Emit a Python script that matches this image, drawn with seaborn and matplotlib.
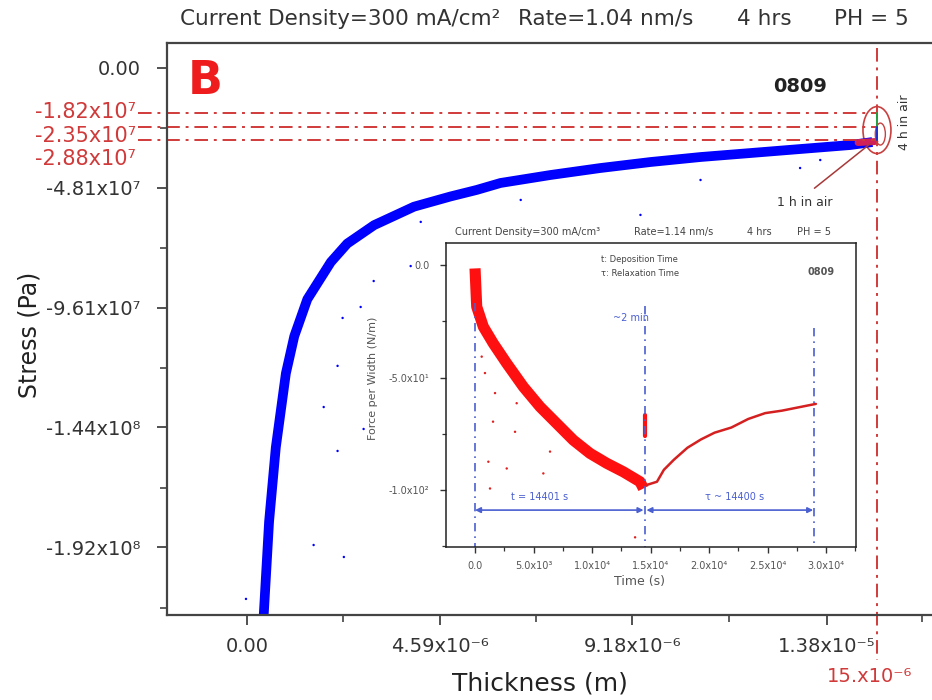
import numpy as np
import pandas as pd
import matplotlib
matplotlib.use("Agg")
import matplotlib.pyplot as plt
import seaborn as sns
from matplotlib.patches import Ellipse

# ---------------- main chart data ----------------
thickness_m = [0.40e-6, 0.53e-6, 0.69e-6, 0.93e-6, 1.13e-6, 1.44e-6, 2.00e-6, 2.39e-6,
               3.03e-6, 3.98e-6, 4.85e-6, 5.47e-6, 6.04e-6, 7.23e-6, 8.42e-6, 9.61e-6,
               10.80e-6, 11.99e-6, 13.17e-6, 14.36e-6, 14.89e-6]
stress_pa = [-22.0e7, -18.18e7, -15.21e7, -12.24e7, -10.75e7, -9.27e7, -7.78e7, -7.04e7,
             -6.30e7, -5.56e7, -5.15e7, -4.89e7, -4.61e7, -4.29e7, -4.01e7, -3.77e7,
             -3.57e7, -3.41e7, -3.25e7, -3.09e7, -2.97e7]
stray_thickness_m = [-0.02e-6, 1.59e-6, 2.31e-6, 1.83e-6, 2.16e-6, 2.16e-6, 2.78e-6, 2.28e-6,
                     2.71e-6, 3.02e-6, 3.90e-6, 4.14e-6, 6.52e-6, 8.18e-6, 9.37e-6, 10.80e-6,
                     13.17e-6, 13.65e-6]
stray_stress_pa = [-21.28e7, -19.12e7, -19.60e7, -13.59e7, -11.94e7, -15.35e7, -14.47e7, -10.02e7,
                   -9.58e7, -8.54e7, -7.94e7, -6.17e7, -5.29e7, -7.09e7, -5.89e7, -4.49e7,
                   -4.01e7, -3.69e7]
ref_stress_pa = [-1.82e7, -2.35e7, -2.88e7]
ref_stress_labels = ["-1.82x10⁷", "-2.35x10⁷", "-2.88x10⁷"]
end_thickness_m = 15e-6
y_ticks = [0.0, -4.81e7, -9.61e7, -1.44e8, -1.92e8]
y_tick_labels = ["0.00", "-4.81x10⁷", "-9.61x10⁷", "-1.44x10⁸", "-1.92x10⁸"]
x_ticks = [0.0, 4.59e-6, 9.18e-6, 1.38e-5]
x_tick_labels = ["0.00", "4.59x10⁻⁶", "9.18x10⁻⁶", "1.38x10⁻⁵"]

# ---------------- inset data ----------------
dep_time_s = [0, 145, 710, 1560, 2710, 4130, 5560, 6980, 8400, 9830, 11260, 12680, 14100, 14390]
dep_force = [-1.5, -18.5, -27.4, -34.8, -43.7, -54.1, -63.0, -70.4, -77.8, -83.7, -88.1, -91.9, -96.3, -99.3]
rel_time_s = [14690, 15550, 16140, 17000, 18150, 19310, 20470, 21910, 23350, 24800, 26240, 27680, 29130]
rel_force = [-97.7, -96.3, -91.0, -86.5, -81.2, -77.5, -74.5, -72.2, -68.4, -65.8, -64.7, -63.2, -61.7]
in_stray_time_s = [570, 850, 1710, 3560, 1540, 3420, 6410, 1140, 2710, 1280, 5840, 13680]
in_stray_force = [-40.7, -48.0, -56.9, -61.4, -69.6, -74.1, -82.9, -87.4, -90.4, -99.3, -92.6, -121.0]
in_x_ticks = [0, 5000, 10000, 15000, 20000, 25000, 30000]
in_x_labels = ["0.0", "5.0x10³", "1.0x10⁴", "1.5x10⁴", "2.0x10⁴", "2.5x10⁴", "3.0x10⁴"]
in_y_ticks = [0, -50, -100]
in_y_labels = ["0.0", "-5.0x10¹", "-1.0x10²"]
marker_times_s = [0, 14530, 29000]

sns.set_style("ticks")
plt.rcParams['font.family'] = ['DejaVu Sans']

W, H = 932, 700
fig = plt.figure(figsize=(W / 100, H / 100), dpi=100)


def P(x, y):
    return (x / W, 1 - y / H)


ax = fig.add_axes([167 / W, 1 - 615 / H, (W - 167) / W, (615 - 43) / H])
ax.set_xlim(-1.90e-6, 16.31e-6)
ax.set_ylim(-2.1925e8, 1.0e7)

df_main = pd.DataFrame({"t": thickness_m, "s": stress_pa})
sns.lineplot(data=df_main, x="t", y="s", sort=False, estimator=None, color="#0000ff",
             lw=7, ax=ax, solid_capstyle="butt", solid_joinstyle="round")
sns.scatterplot(x=stray_thickness_m, y=stray_stress_pa, color="#0000ff", s=3, marker="o",
                edgecolor="none", ax=ax)
# red tint at end of the curve
sns.lineplot(x=[14.55e-6, 14.95e-6], y=[-2.99e7, -2.95e7], color="#d0205a", lw=5, ax=ax,
             estimator=None)

red = "#d03a3a"
ax.hlines(ref_stress_pa, -2.59e-6, end_thickness_m, colors=red, linestyles=[(0, (7, 3, 1.5, 3))],
          lw=1.4, clip_on=False)
ax.plot([end_thickness_m, end_thickness_m], [0.8e7, -2.373e8], color=red, lw=1.4,
        ls=(0, (7, 3, 1.5, 3)), clip_on=False)
ax.plot([end_thickness_m, end_thickness_m], [ref_stress_pa[0], ref_stress_pa[1]], color="#20a040", lw=1.4)
ax.plot([end_thickness_m, end_thickness_m], [ref_stress_pa[1], ref_stress_pa[2]], color="#2030d0", lw=1.4)
ax.add_patch(Ellipse((15.0e-6, -2.49e7), 6.66e-7, 1.88e7, fill=False, ec="#c84040", lw=1.2))
ax.add_patch(Ellipse((15.08e-6, -2.65e7), 2.4e-7, 0.88e7, fill=False, ec="#c84040", lw=1.0))
ax.annotate("", xy=(14.89e-6, -2.97e7), xytext=(13.46e-6, -4.89e7),
            arrowprops=dict(arrowstyle="-", color="#a83838", lw=1.1))

ax.set_yticks(y_ticks)
ax.set_yticklabels(y_tick_labels)
ax.set_xticks(x_ticks)
ax.set_xticklabels(x_tick_labels)
ax.set_yticks([-2.405e7, -7.21e7, -12.02e7, -16.82e7, -21.63e7], minor=True)
ax.set_xticks([2.295e-6, 6.885e-6, 11.475e-6, 16.065e-6], minor=True)
ax.tick_params(axis="both", which="major", direction="out", length=7, width=1.2,
               colors="#333333", labelsize=14, labelcolor="#333333")
ax.tick_params(axis="y", which="major", pad=12)
ax.tick_params(axis="x", which="major", pad=9)
ax.tick_params(axis="both", which="minor", direction="out", length=5, width=1.1, colors="#333333")
for side in ["left", "top", "bottom"]:
    ax.spines[side].set_color("#444444")
    ax.spines[side].set_linewidth(1.6)
ax.spines["right"].set_visible(False)
ax.set_xlabel("")
ax.set_ylabel("")

fig.text(*P(540, 684), "Thickness (m)", ha="center", va="center", fontsize=18, color="#222222")
fig.text(*P(30, 335), "Stress (Pa)", ha="center", va="center", rotation=90, fontsize=17, color="#222222")

for lbl, yy in zip(ref_stress_labels, [112, 136, 159]):
    fig.text(*P(136, yy), lbl, ha="right", va="center", fontsize=15, color=red)
fig.text(*P(870, 677), "15.x10⁻⁶", ha="center", va="center", fontsize=14, color=red)

# title pieces
tcol = "#333333"
fig.text(*P(180, 19), "Current Density=300 mA/cm²", ha="left", va="center", fontsize=15.5, color=tcol)
fig.text(*P(518, 19), "Rate=1.04 nm/s", ha="left", va="center", fontsize=15.5, color=tcol)
fig.text(*P(737, 19), "4 hrs", ha="left", va="center", fontsize=15.5, color=tcol)
fig.text(*P(834, 19), "PH = 5", ha="left", va="center", fontsize=15.5, color=tcol)

fig.text(*P(205, 82), "B", ha="center", va="center", fontsize=33, fontweight="bold", color="#ee1c1c")
fig.text(*P(800, 86), "0809", ha="center", va="center", fontsize=14, fontweight="bold", color="#222222")
fig.text(*P(805, 203), "1 h in air", ha="center", va="center", fontsize=9, color="#333333")
fig.text(*P(905, 122), "4 h in air", ha="center", va="center", rotation=90, fontsize=9, color="#333333")

# ---------------- inset ----------------
axi = fig.add_axes([446 / W, 1 - 547 / H, (856 - 446) / W, (547 - 243) / H])
axi.set_facecolor("white")
axi.set_xlim(-2480, 32560)
axi.set_ylim(-125.3, 9.8)
sns.lineplot(x=dep_time_s, y=dep_force, sort=False, estimator=None, color="#ff1010", lw=8,
             ax=axi, solid_capstyle="butt", solid_joinstyle="round")
sns.lineplot(x=rel_time_s, y=rel_force, sort=False, estimator=None, color="#d42020", lw=1.8, ax=axi)
sns.scatterplot(x=in_stray_time_s, y=in_stray_force, color="#e02020", s=3, marker="o",
                edgecolor="none", ax=axi)
sns.lineplot(x=[14550, 14550], y=[-66.5, -76.0], estimator=None, color="#ff1010", lw=3, ax=axi)

bcol = "#4a5fd0"
axi.plot([marker_times_s[0]] * 2, [-17, -125.3], color=bcol, lw=1.2, ls=(0, (5, 3, 1, 3)))
axi.plot([marker_times_s[1]] * 2, [-18, -125.3], color=bcol, lw=1.2, ls=(0, (5, 3, 1, 3)))
axi.plot([marker_times_s[2]] * 2, [-28, -125.3], color=bcol, lw=1.2, ls=(0, (5, 3, 1, 3)))
axi.annotate("", xy=(14400, -108.9), xytext=(0, -108.9),
             arrowprops=dict(arrowstyle="<|-|>", color=bcol, lw=1.2, mutation_scale=8, shrinkA=0, shrinkB=0))
axi.annotate("", xy=(28900, -108.9), xytext=(14650, -108.9),
             arrowprops=dict(arrowstyle="<|-|>", color=bcol, lw=1.2, mutation_scale=8, shrinkA=0, shrinkB=0))

axi.set_xticks(in_x_ticks)
axi.set_xticklabels(in_x_labels)
axi.set_yticks(in_y_ticks)
axi.set_yticklabels(in_y_labels)
axi.set_xticks([2500, 7500, 12500, 17500, 22500, 27500, 32500], minor=True)
axi.set_yticks([-25, -75, -125], minor=True)
axi.tick_params(axis="both", which="major", direction="out", length=4, width=1,
                labelsize=7, colors="#333333", labelcolor="#555555")
axi.tick_params(axis="y", which="major", pad=8)
axi.tick_params(axis="x", which="major", pad=6)
axi.tick_params(axis="both", which="minor", direction="out", length=3, width=0.9, colors="#333333")
for side in axi.spines.values():
    side.set_color("#222222")
    side.set_linewidth(1.1)
axi.set_xlabel("")
axi.set_ylabel("")

icol = "#555555"
fig.text(*P(373, 378), "Force per Width (N/m)", ha="center", va="center", rotation=90, fontsize=8, color=icol)
fig.text(*P(640, 582), "Time (s)", ha="center", va="center", fontsize=9, color=icol)
fig.text(*P(455, 232), "Current Density=300 mA/cm³", ha="left", va="center", fontsize=7, color="#444444")
fig.text(*P(634, 232), "Rate=1.14 nm/s", ha="left", va="center", fontsize=7, color="#444444")
fig.text(*P(747, 232), "4 hrs", ha="left", va="center", fontsize=7, color="#444444")
fig.text(*P(797, 232), "PH = 5", ha="left", va="center", fontsize=7, color="#444444")
fig.text(*P(601, 260), "t: Deposition Time", ha="left", va="center", fontsize=6, color="#444444")
fig.text(*P(601, 273), "τ: Relaxation Time", ha="left", va="center", fontsize=6, color="#444444")
fig.text(*P(821, 272), "0809", ha="center", va="center", fontsize=7, fontweight="bold", color="#555555")
fig.text(*P(631, 318), "~2 min", ha="center", va="center", fontsize=7, color=bcol)
fig.text(*P(540, 497), "t = 14401 s", ha="center", va="center", fontsize=7, color=bcol)
fig.text(*P(735, 497), "τ ~ 14400 s", ha="center", va="center", fontsize=7, color=bcol)

fig.savefig("out.png", dpi=100)
